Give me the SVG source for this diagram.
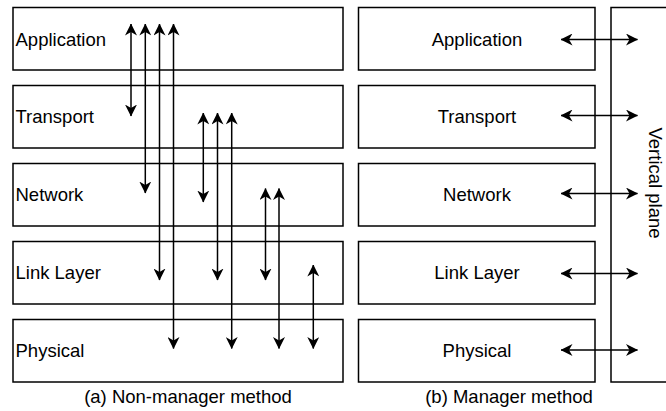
<svg xmlns="http://www.w3.org/2000/svg" width="666" height="411" viewBox="0 0 666 411">
<style>
.box{fill:#fff;stroke:#000;stroke-width:1.5}
.lbl{font-family:"Liberation Sans",Arial,sans-serif;font-size:18.5px;fill:#000}
.cn line{stroke:#000;stroke-width:1.5;marker-start:url(#ah);marker-end:url(#ah)}
</style>
<defs>
<marker id="ah" viewBox="0 0 12 12" refX="11.5" refY="6" markerWidth="12" markerHeight="12" markerUnits="userSpaceOnUse" orient="auto-start-reverse">
<path d="M0,0 L12,6 L0,12 L3.5,6 Z" fill="#000"/>
</marker>
</defs>
<rect width="666" height="411" fill="#fff"/>
<g id="left-application"><rect class="box" x="13" y="7.5" width="330" height="62.5"/><text class="lbl" x="15.5" y="45.5">Application</text></g>
<g id="left-transport"><rect class="box" x="13" y="85.5" width="330" height="62.5"/><text class="lbl" x="15.5" y="123">Transport</text></g>
<g id="left-network"><rect class="box" x="13" y="163.5" width="330" height="62.5"/><text class="lbl" x="15.5" y="201">Network</text></g>
<g id="left-link"><rect class="box" x="13" y="241.5" width="330" height="62.5"/><text class="lbl" x="15.5" y="279">Link Layer</text></g>
<g id="left-physical"><rect class="box" x="13" y="319.5" width="330" height="62.5"/><text class="lbl" x="15.5" y="357">Physical</text></g>
<g id="right-application"><rect class="box" x="358.5" y="7.5" width="236.5" height="62.5"/><text class="lbl" x="477" y="45.5" text-anchor="middle">Application</text></g>
<g id="right-transport"><rect class="box" x="358.5" y="85.5" width="236.5" height="62.5"/><text class="lbl" x="477" y="123" text-anchor="middle">Transport</text></g>
<g id="right-network"><rect class="box" x="358.5" y="163.5" width="236.5" height="62.5"/><text class="lbl" x="477" y="201" text-anchor="middle">Network</text></g>
<g id="right-link"><rect class="box" x="358.5" y="241.5" width="236.5" height="62.5"/><text class="lbl" x="477" y="279" text-anchor="middle">Link Layer</text></g>
<g id="right-physical"><rect class="box" x="358.5" y="319.5" width="236.5" height="62.5"/><text class="lbl" x="477" y="357" text-anchor="middle">Physical</text></g>
<g id="vertical-plane"><rect class="box" x="611" y="7.5" width="70" height="374.5"/><text class="lbl" transform="translate(649,183) rotate(90)" text-anchor="middle">Vertical plane</text></g>
<g id="connectors" class="cn">
<line x1="131" y1="24" x2="131" y2="116"/>
<line x1="145.3" y1="24" x2="145.3" y2="193"/>
<line x1="159.5" y1="24" x2="159.5" y2="280"/>
<line x1="173.5" y1="24" x2="173.5" y2="348.5"/>
<line x1="203.3" y1="113" x2="203.3" y2="202"/>
<line x1="217.5" y1="113" x2="217.5" y2="280"/>
<line x1="231.7" y1="113" x2="231.7" y2="348.5"/>
<line x1="265.5" y1="188.5" x2="265.5" y2="280"/>
<line x1="279" y1="188.5" x2="279" y2="348.5"/>
<line x1="313.3" y1="265" x2="313.3" y2="348.5"/>
<line x1="561" y1="39.5" x2="637.5" y2="39.5"/>
<line x1="561" y1="115.5" x2="637.5" y2="115.5"/>
<line x1="561" y1="193.5" x2="637.5" y2="193.5"/>
<line x1="561" y1="273.5" x2="637.5" y2="273.5"/>
<line x1="561" y1="350" x2="637.5" y2="350"/>
</g>
<text class="lbl" x="188" y="402.5" text-anchor="middle">(a) Non-manager method</text>
<text class="lbl" x="509" y="402.5" text-anchor="middle">(b) Manager method</text>
</svg>
